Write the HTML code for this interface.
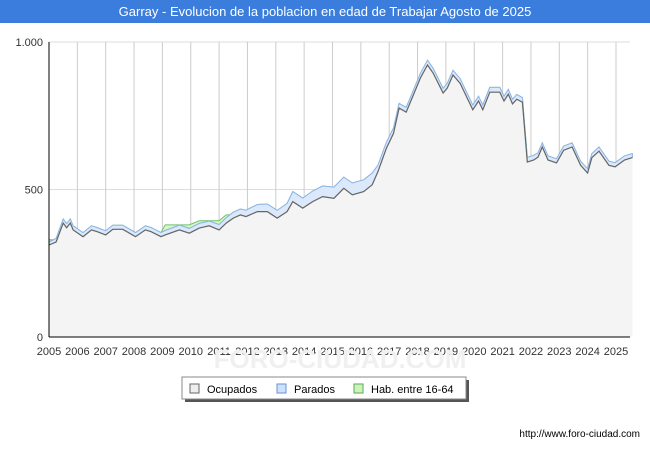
<!DOCTYPE html>
<html><head><meta charset="utf-8"><style>
body{margin:0;width:650px;height:450px;background:#fff;font-family:"Liberation Sans",sans-serif;overflow:hidden}
#title{position:absolute;left:0;top:0;width:650px;height:23px;background:#3b7ddd;color:#fff;font-size:13px;line-height:23px;text-align:center}
</style></head><body>
<div id="title">Garray - Evolucion de la poblacion en edad de Trabajar Agosto de 2025</div>
<svg id="c" width="650" height="450" style="position:absolute;left:0;top:0"></svg>
<script>
const years=[2005.0,2005.25,2005.5,2005.62,2005.75,2005.85,2006.2,2006.5,2006.7,2007.0,2007.25,2007.6,2008.05,2008.4,2008.6,2008.95,2009.1,2009.6,2009.95,2010.3,2010.65,2011.0,2011.25,2011.5,2011.75,2011.95,2012.35,2012.7,2013.05,2013.4,2013.6,2013.95,2014.3,2014.65,2015.05,2015.4,2015.7,2016.1,2016.4,2016.6,2016.9,2017.15,2017.35,2017.6,2017.85,2018.1,2018.35,2018.55,2018.9,2019.05,2019.25,2019.5,2019.95,2020.15,2020.3,2020.55,2020.9,2021.05,2021.2,2021.35,2021.5,2021.7,2021.87,2022.1,2022.25,2022.4,2022.6,2022.9,2023.15,2023.45,2023.75,2024.0,2024.15,2024.4,2024.75,2024.97,2025.3,2025.58];
const ocupados=[312,322,386,370,386,363,340,363,357,346,365,365,340,363,357,340,346,363,352,369,377,363,386,403,414,408,425,425,403,425,459,437,459,476,470,504,482,493,516,560,640,690,776,762,820,878,922,895,827,844,888,860,770,800,770,830,830,800,823,790,806,796,593,600,610,644,600,590,633,644,582,556,608,630,582,577,600,608];
const parados=[10,12,14,14,14,14,14,14,14,14,14,14,14,14,14,14,15,16,16,16,16,18,18,20,20,22,24,26,26,28,34,34,36,36,38,38,40,40,40,22,20,18,16,16,16,16,16,16,16,16,16,16,16,16,16,16,16,16,16,16,16,16,16,16,14,14,14,14,14,14,14,14,14,14,14,14,14,14];
const hab=[330,330,386,384,400,377,354,377,371,360,379,379,354,377,371,354,380,380,380,394,394,394,414,414,434,430,449,451,429,453,493,471,495,512,508,542,522,533,556,582,660,708,792,778,836,894,938,911,843,860,904,876,786,816,786,846,846,816,839,806,822,812,609,616,624,658,614,604,647,658,596,570,622,644,596,591,614,622];
const yTicks=[0,500,1000];
const yTickLabels=["0","500","1.000"];
const xTicks=[2005,2006,2007,2008,2009,2010,2011,2012,2013,2014,2015,2016,2017,2018,2019,2020,2021,2022,2023,2024,2025];
const X0=49,X1=630,YT=42,YB=337;
const x=t=>X0+(t-2005)*28.35;
const y=v=>YB-v*(YB-YT)/1000;
const svg=document.getElementById('c');const NS='http://www.w3.org/2000/svg';
function mk(tag,attrs,parent){const e=document.createElementNS(NS,tag);for(const k in attrs)e.setAttribute(k,attrs[k]);(parent||svg).appendChild(e);return e;}
yTicks.forEach((v,i)=>{const g=mk('line',{x1:X0,x2:X1,y1:y(v),y2:y(v),stroke:'#ddd'});


const t=mk('text',{x:X0-6,y:y(v)+4,'text-anchor':'end','font-size':11,fill:'#333'});t.textContent=yTickLabels[i];

});
xTicks.forEach(yr=>{const g=mk('line',{x1:x(yr),x2:x(yr),y1:YT,y2:YB,stroke:'#ccc'});


const t=mk('text',{x:x(yr),y:355,'text-anchor':'middle','font-size':11,fill:'#333'});t.textContent=yr;

});
const totals=ocupados.map((v,i)=>v+parados[i]);
const pts=a=>a.map((v,i)=>x(years[i]).toFixed(1)+','+y(v).toFixed(1));
const band=(hi,lo)=>'M'+pts(hi).join('L')+'L'+pts(lo).reverse().join('L')+'Z';
const zero=ocupados.map(()=>0);
let p=mk('path',{d:band(hab,totals),fill:'#d9f7c8',stroke:'#6cc46c','stroke-width':1});


p=mk('path',{d:band(totals,ocupados),fill:'#dbe9fb',stroke:'#8fb4ea','stroke-width':1});


p=mk('path',{d:band(ocupados,zero),fill:'#f4f4f4',stroke:'none'});


p=mk('polyline',{points:pts(ocupados).join(' '),fill:'none',stroke:'#666','stroke-width':1.2});


p=mk('line',{x1:X0,x2:X0,y1:YT,y2:YB,stroke:'#000'});


p=mk('line',{x1:X0,x2:X1,y1:YB,y2:YB,stroke:'#000'});


p=mk('text',{x:340,y:368,'text-anchor':'middle','font-size':26,'font-weight':'bold',fill:'#f0f0f0'});p.textContent='FORO-CIUDAD.COM';


const lg=mk('g',{});


mk('rect',{x:185,y:380,width:284,height:22,fill:'#555'},lg);
mk('rect',{x:182,y:377,width:284,height:22,fill:'#fff',stroke:'#888'},lg);
[['Ocupados','#eee','#666',190],['Parados','#cfe0fa','#6a93d6',277],['Hab. entre 16-64','#cdf3b8','#5aa85a',354]].forEach(e=>{
const r=mk('rect',{x:e[3],y:384,width:9,height:9,fill:e[1],stroke:e[2]},lg);


const t=mk('text',{x:e[3]+17,y:393,'font-size':11,fill:'#000'},lg);t.textContent=e[0];

});
p=mk('text',{x:640,y:437,'text-anchor':'end','font-size':10,fill:'#000'});p.textContent='http://www.foro-ciudad.com';


</script>
</body></html>
